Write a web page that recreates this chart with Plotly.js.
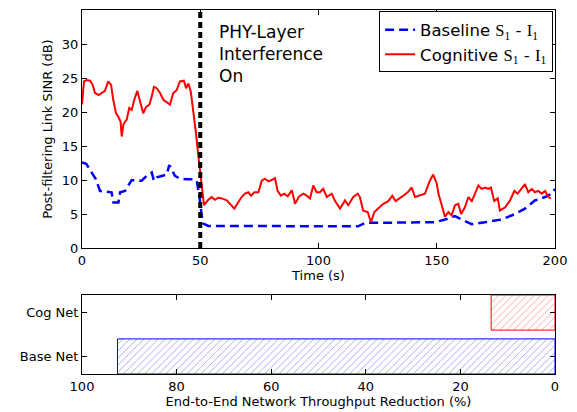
<!DOCTYPE html>
<html><head><meta charset="utf-8">
<script src="https://cdn.plot.ly/plotly-3.0.1.min.js"></script>
<style>html,body{margin:0;padding:0;background:#fff}#chart{width:577px;height:412px}</style>
</head><body><div id="chart"></div>
<script>
// Cognitive S1 - I1 (red)
const cogTime = [0,0.85,2,3.4,4.5,5.5,7,8.3,9.7,11.1,12.3,13.2,14.4,15.2,16.3,16.8,17.5,18.9,20,21,22.1,23.4,24.5,25.9,27,28.5,29.5,30.4,31.6,33,34.4,35.8,37.2,38.6,40,41.4,43.1,44,45,46,47,48.2,49.2,50.2,51.6,52,53.4,54.8,56.2,57.6,59.1,61.2,62.6,64.4,65.8,67.5,68.9,70.3,71.5,72.9,74.6,76,77.4,78.8,80.2,81.6,82.7,84.1,85.5,87,88.7,90.1,91.8,93.6,95,96.4,97.8,99.2,100.6,102,103.5,105.6,107,109.1,111.2,112.6,114.7,116.6,117.5,118.9,120.8,122.2,123.6,125.3,127.4,129.5,131.2,132.6,134.5,135.9,137.7,139.4,140.8,142.9,145,147.1,148.5,150,150.7,152.1,153.5,154.9,156.3,157.7,159.1,160.3,161.9,163.4,164.8,166.2,167.6,169,170.4,171.8,172.9,174.3,175.8,176.7,178.9,181,182.8,184.2,185.6,187.3,188.7,190.2,191.5,192.9,194.4,195.8,197.2,198.3];
const cogSinr = [21.1,24.5,24.7,24.6,24.0,22.8,22.5,22.8,23.1,24.5,24.0,21.8,19.8,19.4,18.6,16.4,18.2,18.9,20.6,20.3,21.8,23.1,21.8,19.8,20.7,21.1,22.3,23.7,23.5,22.8,21.8,21.5,21.1,22.8,23.2,24.5,24.6,23.5,24.2,23.0,20.3,16.9,13.5,10.1,6.3,6.5,7.1,7.5,7.1,7.4,7.3,7.0,6.5,5.8,6.6,7.5,8.0,8.2,7.7,8.2,8.2,9.9,10.2,9.8,10.0,10.3,8.4,7.7,8.0,7.6,8.5,6.5,7.6,8.0,7.7,7.3,9.2,8.2,8.2,8.7,7.5,8.0,6.9,5.8,7.0,6.3,7.5,8.0,7.5,5.5,5.3,3.8,5.3,5.8,6.5,6.9,7.7,6.9,7.3,7.7,8.2,8.9,7.5,7.7,8.0,9.9,10.8,9.5,8.0,6.3,4.6,5.3,4.8,6.3,6.5,5.0,6.0,7.5,6.9,8.0,9.2,8.7,8.9,8.7,8.9,6.9,7.3,5.5,6.0,7.0,8.4,8.0,8.7,9.4,8.2,8.7,8.2,8.4,8.0,8.4,7.5,7.3];
// Baseline S1 - I1 (blue dashed)
const baseTime = [0,1.8,4.1,5.9,7.6,10.4,12.5,13.3,15.4,16.1,18.2,19.6,21,23,25.2,27.3,29.5,30.4,31.6,33.7,35.8,36.9,37.8,39.3,41.4,44.3,47.1,48.5,49.6,50.6,51.3,53.4,80,116.7,119.7,145,149.3,153.5,157.7,160.5,164.8,170.4,177.5,183.1,187.3,191.5,195.8,198.6,200];
const baseSinr = [12.6,12.4,11.1,10.1,8.4,8.3,8.2,6.7,6.7,8.2,8.4,9.2,10.0,9.9,9.9,10.6,11.1,9.9,10.4,10.6,10.8,12.2,11.7,10.6,10.2,10.1,10.1,9.9,7.7,4.8,3.6,3.25,3.2,3.2,3.7,3.7,3.8,4.2,4.7,4.2,3.5,3.8,4.2,5.0,5.8,7.0,7.5,8.0,8.7];
// Throughput reduction bars
const netNames = ["Base Net","Cog Net"];
const reduction = [92.5,13.5];

const font = {family:"DejaVu Sans, sans-serif", size:13, color:"#000"};
const serif = t => "<span style=\"font-family:'Liberation Serif',serif\">"+t+"</span>";

const traces = [
  {x:baseTime, y:baseSinr, type:"scatter", mode:"lines", name:"Baseline "+serif("S<sub>1</sub>")+" - "+serif("I<sub>1</sub>"),
   line:{color:"#0000ff", width:2.5, dash:"9px,5px"}, xaxis:"x", yaxis:"y"},
  {x:cogTime, y:cogSinr, type:"scatter", mode:"lines", name:"Cognitive "+serif("S<sub>1</sub>")+" - "+serif("I<sub>1</sub>"),
   line:{color:"#ff0000", width:2}, xaxis:"x", yaxis:"y"},
  {x:[reduction[0]], y:[netNames[0]], type:"bar", orientation:"h", showlegend:false, width:0.8,
   marker:{color:"rgba(255,255,255,0)", line:{color:"#0000ff", width:1},
     pattern:{shape:"/", fgcolor:"#0000ff", fgopacity:0.55, size:5, solidity:0.12}}, xaxis:"x2", yaxis:"y2"},
  {x:[reduction[1]], y:[netNames[1]], type:"bar", orientation:"h", showlegend:false, width:0.8,
   marker:{color:"rgba(255,255,255,0)", line:{color:"#ff0000", width:1},
     pattern:{shape:"/", fgcolor:"#ff0000", fgopacity:0.55, size:5, solidity:0.12}}, xaxis:"x2", yaxis:"y2"}
];

const axBase = {showline:true, linecolor:"#000", linewidth:1, mirror:"ticks", ticks:"inside", ticklen:5, tickcolor:"#000", showgrid:false, zeroline:false, tickfont:font};

const layout = {
  width:577, height:412, margin:{l:82, r:22, t:10, b:38},
  paper_bgcolor:"#fff", plot_bgcolor:"#fff", font:font, showlegend:true,
  xaxis:Object.assign({}, axBase, {domain:[0,1], range:[0,200], tickvals:[0,50,100,150,200], anchor:"y",
     title:{text:"Time (s)", font:font, standoff:2}}),
  yaxis:Object.assign({}, axBase, {domain:[0.346,1], range:[0,35], tickvals:[0,5,10,15,20,25,30], anchor:"x",
     title:{text:"Post-filtering Link SINR (dB)", font:font, standoff:6}}),
  xaxis2:Object.assign({}, axBase, {domain:[0,1], range:[100,0], tickvals:[100,80,60,40,20,0], anchor:"y2",
     title:{text:"End-to-End Network Throughput Reduction (%)", font:font, standoff:2}}),
  yaxis2:Object.assign({}, axBase, {domain:[0,0.217], type:"category", categoryorder:"array", categoryarray:netNames, range:[-0.4,1.4], anchor:"x2"}),
  legend:{x:0.996, xanchor:"right", y:0.996, yanchor:"top", bordercolor:"#000", borderwidth:1, bgcolor:"#fff",
     font:{family:font.family, size:16.5, color:"#000"}, tracegroupgap:0, itemwidth:30},
  shapes:[{type:"line", xref:"x", yref:"y", x0:50, x1:50, y0:0, y1:35, line:{color:"#000", width:4, dash:"6px,4px"}}],
  annotations:[{xref:"x", yref:"y", x:57, y:33.5, xanchor:"left", yanchor:"top", align:"left", showarrow:false,
     text:"PHY-Layer<br>Interference<br>On", font:{family:font.family, size:17, color:"#000"}}]
};
Plotly.newPlot("chart", traces, layout, {staticPlot:true});
</script></body></html>
